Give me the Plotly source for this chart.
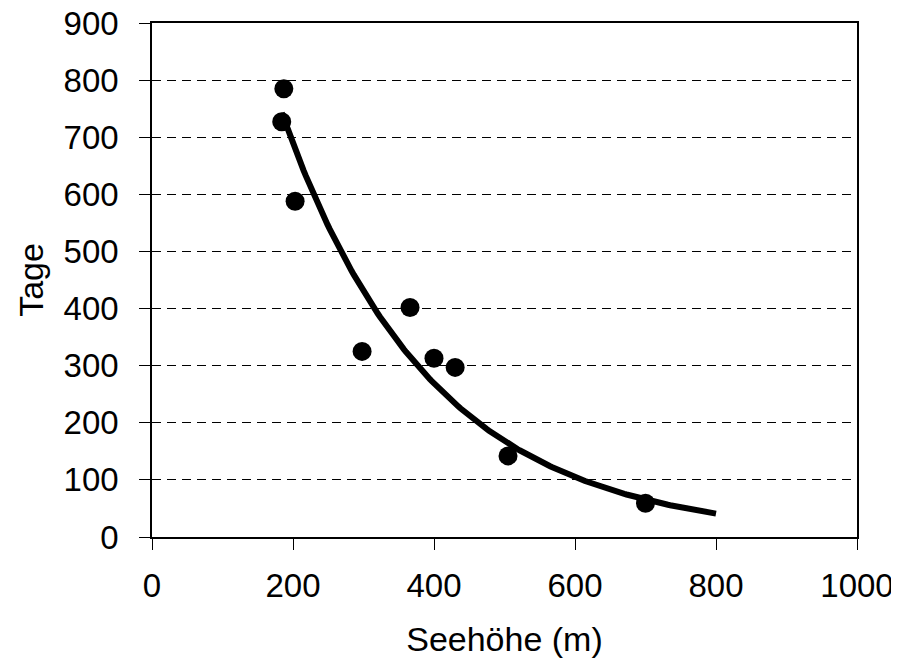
import numpy as np
import plotly.graph_objects as go

# Data
seehoehe = [187, 184, 203, 298, 366, 400, 430, 505, 700]
tage = [785, 727, 588, 325, 402, 313, 297, 142, 59]

x_ticks = [0, 200, 400, 600, 800, 1000]
y_ticks = [0, 100, 200, 300, 400, 500, 600, 700, 800, 900]

# Exponential trendline (least squares on log values), forecast to 800
xs = np.array(seehoehe, dtype=float)
ys = np.array(tage, dtype=float)
b, ln_a = np.polyfit(xs, np.log(ys), 1)
trend_x = np.linspace(xs.min(), 800, 200)
trend_y = np.exp(ln_a) * np.exp(b * trend_x)

FONT = "Liberation Sans, Arial, sans-serif"

fig = go.Figure()
fig.add_trace(go.Scatter(x=trend_x, y=trend_y, mode="lines",
                         line=dict(color="black", width=6), showlegend=False,
                         hoverinfo="skip"))
fig.add_trace(go.Scatter(x=seehoehe, y=tage, mode="markers",
                         marker=dict(color="black", size=19, symbol="circle"),
                         showlegend=False))

fig.update_layout(
    width=899, height=667,
    margin=dict(l=144, r=50, t=15, b=138),
    paper_bgcolor="white", plot_bgcolor="white",
    font=dict(family=FONT, size=33, color="black"),
    xaxis=dict(
        range=[0, 1000], tickvals=x_ticks, ticktext=[str(v) for v in x_ticks],
        showgrid=False, zeroline=False, automargin=False,
        showline=True, linecolor="black", linewidth=1.5, mirror=True,
        ticks="outside", ticklen=11, tickwidth=1, tickcolor="black",
        ticklabelstandoff=8, ticklabeloverflow="allow",
        title=dict(text="Seehöhe (m)", font=dict(size=34), standoff=24),
    ),
    yaxis=dict(
        range=[0, 900], tickvals=y_ticks, ticktext=[str(v) for v in y_ticks],
        showgrid=True, gridcolor="black", gridwidth=1, griddash="9px,6px",
        zeroline=False, automargin=False,
        showline=True, linecolor="black", linewidth=1.5, mirror=True,
        ticks="outside", ticklen=11, tickwidth=1, tickcolor="black",
        ticklabelstandoff=14, ticklabeloverflow="allow",
        title=dict(text="Tage", font=dict(size=34), standoff=10),
    ),
)

fig.write_html("out.html")
